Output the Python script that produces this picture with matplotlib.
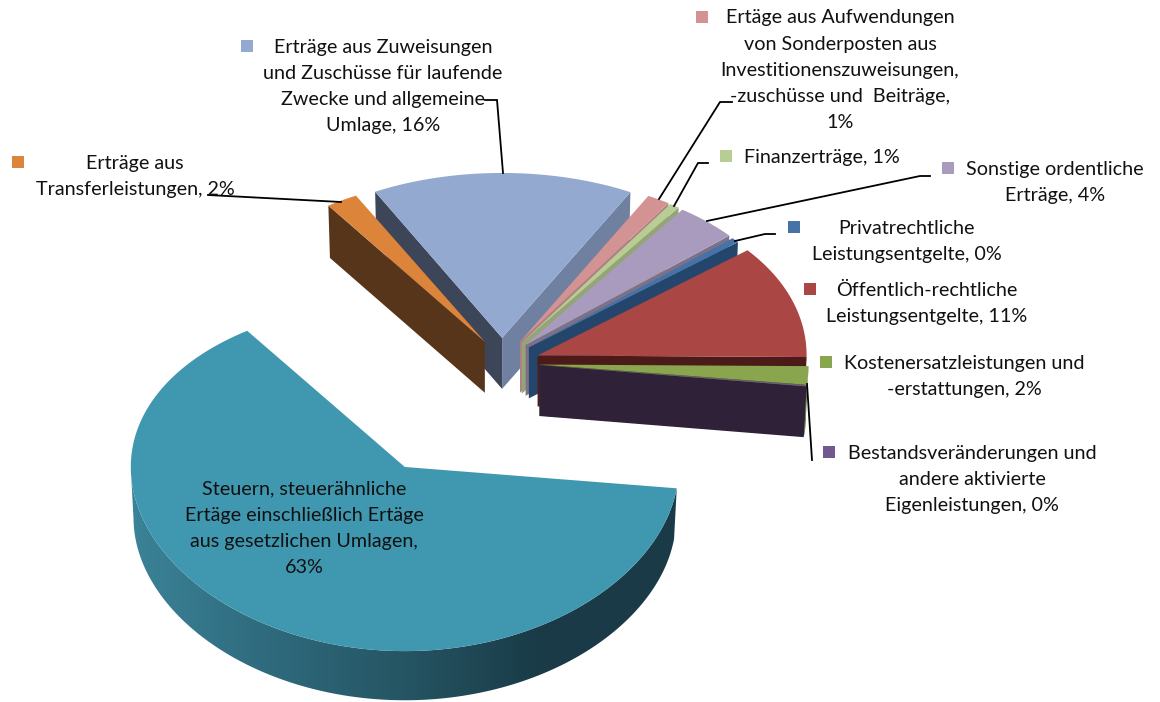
import numpy as np
import matplotlib
matplotlib.use("Agg")
import matplotlib.pyplot as plt
from matplotlib.colors import LinearSegmentedColormap
from matplotlib.patches import Polygon

plt.rcParams['font.family'] = ['Lato', 'DejaVu Sans']

# slices, clockwise starting at the right edge of the big one
names = ["Steuern", "Transfer", "Zuweisungen", "Sonderposten", "Finanz", "Sonstige",
         "Privat", "Oeffentlich", "Kostenersatz", "Bestand"]
values = [63.3, 1.9, 15.8, 1.4, 0.6, 3.8, 0.5, 10.9, 1.7, 0.1]

top_colors = ['#4098b0', '#dd843b', '#93a9cf', '#d39393', '#b7cd93',
              '#a99bbd', '#4573a7', '#aa4643', '#89a54e', '#71588f']
start_wall = ['#1a3b47', '#57351a', '#3d4659', '#9c6d6d', '#87976c',
              '#7d7089', '#24466c', '#4c1a18', '#536d2f', '#2e2138']
end_wall = ['#1a3b47', '#57351a', '#6f80a0', '#b08080', '#93a576',
            '#7d7089', '#24466c', '#4c1a18', '#536d2f', '#2e2138']
explode_x = [0.69, 0.12, 0.13, 0.13, 0.13, 0.13, 0.13, 0.14, 0.14, 0.14]
explode_y = [0.69, 0.15, 0.15, 0.15, 0.15, 0.15, 0.15, 0.15, 0.05, 0.05]
radius_x = [274, 272, 268, 268, 268, 268, 268, 269, 269, 269]

# pie geometry in pixels
cx, cy = 502, 364
ry = 174
persp = 0.055
depth = 51
bottom_scale = 0.99
start_angle = -7

# text, centre x, y of first line, legend key x, key colour
labels = [
    (["Erträge aus Zuweisungen", "und Zuschüsse für laufende", "Zwecke und allgemeine", "Umlage, 16%"],
     383, 47, 247, '#93a9cf'),
    (["Ertäge aus Aufwendungen", "von Sonderposten aus", "Investitionenszuweisungen,",
      "-zuschüsse und  Beiträge,", "1%"], 840, 18, 702, '#d39393'),
    (["Finanzerträge, 1%"], 822, 157, 726, '#b7cd93'),
    (["Sonstige ordentliche", "Erträge, 4%"], 1055, 169, 948, '#a99bbd'),
    (["Privatrechtliche", "Leistungsentgelte, 0%"], 907, 228, 794, '#4573a7'),
    (["Öffentlich-rechtliche", "Leistungsentgelte, 11%"], 927, 290, 810, '#aa4643'),
    (["Kostenersatzleistungen und", "-erstattungen, 2%"], 964, 363, 826, '#89a54e'),
    (["Bestandsveränderungen und", "andere aktivierte", "Eigenleistungen, 0%"], 972, 453, 829, '#71588f'),
    (["Erträge aus", "Transferleistungen, 2%"], 135, 163, 18, '#dd843b'),
    (["Steuern, steuerähnliche", "Ertäge einschließlich Ertäge", "aus gesetzlichen Umlagen,", "63%"],
     304, 489, None, None),
]
line_gap = 26.1

leaders = [
    ([485, 497, 503], [100, 100, 173]),
    ([732, 720, 659], [102, 102, 199]),
    ([708, 698, 674], [163, 163, 206]),
    ([930, 920, 707], [176, 176, 221]),
    ([775, 765, 735], [234, 234, 241]),
    ([208, 341], [195, 202]),
    ([807, 812], [384, 460]),
]


def project(apex, theta, rx):
    u, v = np.cos(theta), np.sin(theta)
    s = 1 / (1 + persp * v)
    return np.column_stack([apex[0] + rx * u, apex[1] - ry * v * s])


def lower(apex, pts):
    out = np.array(apex) + (pts - np.array(apex)) * bottom_scale
    out[:, 1] += depth
    return out


fig = plt.figure(figsize=(11.6, 7.02), dpi=100)
ax = fig.add_axes([0, 0, 1, 1])

sweep = np.radians(np.array(values) / sum(values) * 360)
edges = np.radians(start_angle) - np.concatenate([[0], np.cumsum(sweep)])

draw_order = [2, 1, 3, 4, 5, 6, 7, 8, 9, 0]
for i in draw_order:
    t0, t1 = edges[i + 1], edges[i]  # t1 is the first edge going clockwise
    mid = (t0 + t1) / 2
    rx = radius_x[i]
    apex = (cx + explode_x[i] * rx * np.cos(mid), cy - explode_y[i] * ry * np.sin(mid))
    theta = np.linspace(t1, t0, 240)
    rim = project(apex, theta, rx)
    apex_pt = np.array([apex])

    # outer wall, only the part facing the viewer
    front = np.sin(theta) < 0
    if front.sum() > 1:
        wall = np.vstack([rim[front], lower(apex, rim[front])[::-1]])
        if i == 0:
            grad = LinearSegmentedColormap.from_list(
                "wall", ['#3b8398', '#2f6a7d', '#255563', '#1a3a47', '#1a3b47'])
            poly = Polygon(wall, closed=True, fc='none', ec='none')
            ax.add_patch(poly)
            im = ax.imshow(np.linspace(0, 1, 256).reshape(1, -1), cmap=grad, aspect='auto',
                           extent=[apex[0] - rx, apex[0] + rx, 702, 0], zorder=1)
            im.set_clip_path(poly)
        else:
            ax.add_patch(Polygon(wall, closed=True, fc=end_wall[i], ec='none'))

    # cut faces
    if np.cos(t1) < 0:
        edge = np.vstack([apex_pt, project(apex, np.array([t1]), rx)])
        ax.add_patch(Polygon(np.vstack([edge, lower(apex, edge)[::-1]]), closed=True,
                             fc=start_wall[i], ec='none'))
    if np.cos(t0) > 0:
        edge = np.vstack([apex_pt, project(apex, np.array([t0]), rx)])
        ax.add_patch(Polygon(np.vstack([edge, lower(apex, edge)[::-1]]), closed=True,
                             fc=end_wall[i], ec='none'))

    ax.add_patch(Polygon(np.vstack([apex_pt, rim]), closed=True, fc=top_colors[i], ec='none', zorder=2))

for xs, ys in leaders:
    ax.plot(xs, ys, color='black', lw=1.3, zorder=3, solid_joinstyle='miter')

for lines, x, y, key_x, key_color in labels:
    for n, line in enumerate(lines):
        ax.text(x, y + n * line_gap, line, ha='center', va='center', fontsize=14.2,
                color='#111111', zorder=4)
    if key_x is not None:
        ax.scatter([key_x], [y - 1], marker='s', s=72, color=key_color, linewidths=0, zorder=4)

ax.set_xlim(0, 1160)
ax.set_ylim(702, 0)
ax.axis('off')

fig.savefig("out.png", dpi=100)
